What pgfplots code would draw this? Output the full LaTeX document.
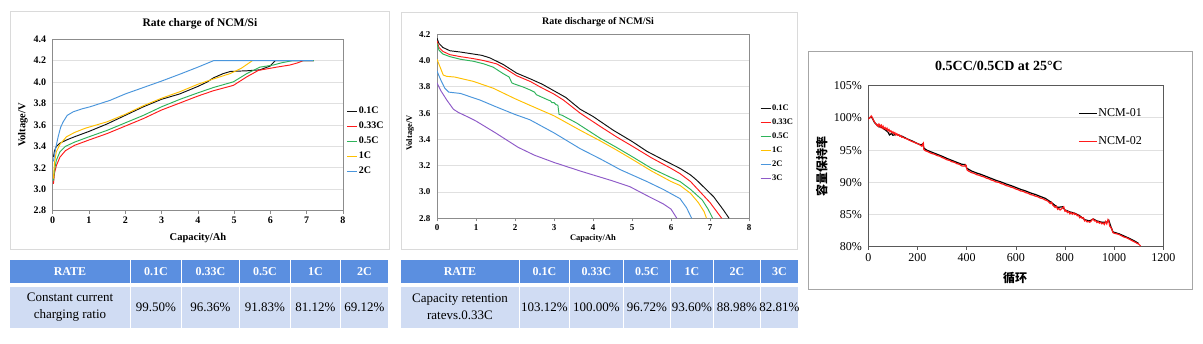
\documentclass[border=0pt]{standalone}
\usepackage{fontspec}
\setmainfont{Liberation Serif}
\newfontfamily\cjk{Noto Sans CJK SC}
\usepackage{pgfplots}
\pgfplotsset{compat=1.18}
\definecolor{cblack}{HTML}{111111}
\definecolor{cred}{HTML}{FF1A1A}
\definecolor{cgreen}{HTML}{2EB35A}
\definecolor{cyellow}{HTML}{FFC000}
\definecolor{cblue}{HTML}{4A96DC}
\definecolor{cpurple}{HTML}{8E5AC8}
\definecolor{gridc}{HTML}{E0E0E0}
\definecolor{axc}{HTML}{8C8C8C}
\definecolor{axc3}{HTML}{595959}
\definecolor{panelc}{HTML}{DADADA}
\definecolor{panelc3}{HTML}{A6A6A6}
\definecolor{hdr}{HTML}{5B8FE0}
\definecolor{bdy}{HTML}{D0DCF3}
\pgfplotsset{
  smallchart/.style={
    scale only axis,
    axis line style={draw=axc, line width=0.8pt},
    ymajorgrids, grid style={draw=gridc, line width=0.8pt},
    tick align=outside, major tick length=3pt,
    xtick pos=bottom, ytick pos=left,
    ytick style={draw=none},
    xtick style={draw=axc, line width=0.6pt},
    /pgf/number format/assume math mode=true,
    legend cell align=left,
    legend image code/.code={\draw[#1] (0pt,0pt) -- (10pt,0pt);},
    every axis plot/.append style={line width=0.95pt, mark=none},
  }
}
\begin{document}
\begin{tikzpicture}[x=1pt,y=1pt]
\useasboundingbox (0,0) rectangle (1203,343);
\fill[white] (0,0) rectangle (1203,343);
% panel frames
\draw[panelc, line width=0.8pt] (10,94) rectangle (389,331.3);
\draw[panelc, line width=0.8pt] (401,94) rectangle (797,331);
\draw[panelc3, line width=0.8pt] (808,53.7) rectangle (1192,291.3);

% ---------- Chart 1: rate charge ----------
\begin{axis}[smallchart,
  at={(52.7pt,132.3pt)}, anchor=south west,
  width=290.3pt, height=171.4pt,
  xmin=0, xmax=8, ymin=2.8, ymax=4.4,
  xtick={0,1,...,8}, ytick={2.8,3.0,3.2,3.4,3.6,3.8,4.0,4.2,4.4},
  yticklabel style={/pgf/number format/.cd, fixed, fixed zerofill, precision=1},
  ticklabel style={font=\bfseries\fontsize{10}{10}\selectfont},
  legend style={at={(1.013,0.615)}, anchor=north west, draw=none, fill=none,
    font=\bfseries\fontsize{10}{10}\selectfont, row sep=3pt,
    inner sep=0pt, nodes={inner sep=1pt, text height=7.5pt, text depth=2.5pt}},
]
\addplot[cblack] coordinates {(0.02,3.30)(0.05,3.36)(0.1,3.40)(0.2,3.43)(0.38,3.46)(0.6,3.49)(1.0,3.54)(1.5,3.61)(2.0,3.69)(2.5,3.77)(3.0,3.84)(3.5,3.89)(4.0,3.96)(4.25,4.00)(4.43,4.04)(4.7,4.08)(4.9,4.10)(5.35,4.106)(5.71,4.115)(5.99,4.15)(6.13,4.2)(7.2,4.2)};
\addlegendentry{0.1C}
\addplot[cred] coordinates {(0.02,3.05)(0.05,3.15)(0.1,3.22)(0.2,3.30)(0.35,3.36)(0.6,3.41)(1.0,3.46)(1.5,3.52)(2.0,3.59)(2.5,3.66)(3.0,3.74)(3.51,3.806)(4.0,3.87)(4.43,3.92)(4.98,3.97)(5.35,4.05)(5.67,4.11)(6.17,4.14)(6.54,4.16)(6.75,4.18)(6.9,4.2)(7.2,4.2)};
\addlegendentry{0.33C}
\addplot[cgreen] coordinates {(0.02,3.08)(0.05,3.18)(0.1,3.27)(0.2,3.35)(0.35,3.40)(0.6,3.44)(1.0,3.49)(1.5,3.55)(2.0,3.62)(2.5,3.69)(3.0,3.77)(3.51,3.84)(4.0,3.90)(4.43,3.95)(4.98,4.003)(5.35,4.08)(5.71,4.14)(6.08,4.16)(6.3,4.18)(6.6,4.2)(7.2,4.2)};
\addlegendentry{0.5C}
\addplot[cyellow] coordinates {(0.02,3.10)(0.05,3.25)(0.1,3.35)(0.2,3.42)(0.38,3.49)(0.6,3.53)(0.9,3.57)(1.5,3.63)(2.0,3.70)(2.5,3.78)(3.0,3.85)(3.5,3.91)(4.0,3.98)(4.43,4.03)(4.89,4.08)(5.2,4.13)(5.5,4.2)};
\addlegendentry{1C}
\addplot[cblue] coordinates {(0.02,3.26)(0.08,3.38)(0.15,3.49)(0.22,3.58)(0.29,3.63)(0.4,3.69)(0.57,3.724)(0.8,3.75)(1.03,3.77)(1.58,3.83)(2.0,3.89)(2.5,3.95)(3.0,4.01)(3.51,4.075)(4.0,4.14)(4.43,4.2)(7.18,4.2)};
\addlegendentry{2C}
\end{axis}
\node[font=\bfseries\fontsize{11.5}{12}\selectfont] at (200,319) {Rate charge of NCM/Si};
\node[font=\bfseries\fontsize{10.5}{11}\selectfont] at (198,105.5) {Capacity/Ah};
\node[font=\bfseries\fontsize{10.5}{11}\selectfont, rotate=90] at (23,218) {Voltage/V};

% ---------- Chart 2: rate discharge ----------
\begin{axis}[smallchart,
  at={(437pt,124.7pt)}, anchor=south west,
  width=312pt, height=184pt,
  xmin=0, xmax=8, ymin=2.8, ymax=4.2,
  xtick={0,1,...,8}, ytick={2.8,3.0,3.2,3.4,3.6,3.8,4.0,4.2},
  yticklabel style={/pgf/number format/.cd, fixed, fixed zerofill, precision=1},
  ticklabel style={font=\bfseries\fontsize{9}{9}\selectfont},
  legend style={at={(1.035,0.627)}, anchor=north west, draw=none, fill=none,
    font=\bfseries\fontsize{8.5}{8.5}\selectfont, row sep=3pt,
    inner sep=0pt, nodes={inner sep=1pt, text height=6.5pt, text depth=2.5pt}},
]
\addplot[cblack] coordinates {(0,4.17)(0.05,4.13)(0.15,4.10)(0.33,4.075)(0.6,4.065)(0.93,4.05)(1.15,4.04)(1.36,4.02)(1.7,3.97)(2.04,3.905)(2.4,3.86)(2.7,3.82)(3.0,3.77)(3.3,3.72)(3.67,3.63)(4.0,3.575)(4.52,3.47)(5.0,3.385)(5.38,3.31)(5.8,3.245)(6.23,3.18)(6.5,3.13)(6.66,3.09)(6.9,3.02)(7.09,2.965)(7.34,2.865)(7.49,2.8)};
\addlegendentry{0.1C}
\addplot[cred] coordinates {(0,4.15)(0.05,4.10)(0.15,4.07)(0.33,4.045)(0.6,4.03)(0.93,4.015)(1.2,4.0)(1.53,3.975)(1.8,3.93)(2.04,3.885)(2.4,3.84)(2.64,3.80)(3.0,3.745)(3.24,3.70)(3.67,3.6)(4.18,3.50)(4.6,3.42)(5.0,3.35)(5.5,3.26)(6.0,3.18)(6.23,3.14)(6.5,3.08)(6.75,3.0)(7.0,2.92)(7.15,2.86)(7.30,2.8)};
\addlegendentry{0.33C}
\addplot[cgreen] coordinates {(0,4.13)(0.05,4.08)(0.15,4.05)(0.33,4.03)(0.6,4.01)(0.93,3.995)(1.2,3.975)(1.44,3.95)(1.7,3.90)(1.85,3.875)(1.92,3.83)(2.0,3.82)(2.2,3.80)(2.4,3.775)(2.5,3.76)(2.55,3.74)(2.7,3.72)(2.85,3.70)(2.9,3.695)(2.95,3.68)(3.0,3.68)(3.05,3.665)(3.1,3.66)(3.13,3.59)(3.2,3.585)(3.58,3.525)(4.18,3.41)(4.6,3.34)(5.0,3.27)(5.5,3.18)(6.0,3.11)(6.23,3.08)(6.5,3.02)(6.8,2.94)(6.95,2.87)(7.07,2.8)};
\addlegendentry{0.5C}
\addplot[cyellow] coordinates {(0,4.01)(0.08,3.95)(0.16,3.89)(0.25,3.88)(0.45,3.875)(0.93,3.842)(1.44,3.79)(1.79,3.74)(2.0,3.71)(2.38,3.66)(3.0,3.58)(3.67,3.47)(4.18,3.39)(4.6,3.32)(5.0,3.25)(5.5,3.16)(6.0,3.08)(6.23,3.05)(6.5,2.99)(6.7,2.92)(6.85,2.85)(6.91,2.8)};
\addlegendentry{1C}
\addplot[cblue] coordinates {(0,3.92)(0.1,3.85)(0.2,3.79)(0.3,3.76)(0.45,3.755)(0.6,3.75)(0.8,3.73)(1.1,3.70)(1.5,3.65)(2.0,3.59)(2.38,3.55)(3.0,3.45)(3.67,3.33)(4.2,3.25)(4.7,3.17)(5.38,3.08)(5.8,3.02)(6.23,2.95)(6.4,2.88)(6.53,2.8)};
\addlegendentry{2C}
\addplot[cpurple] coordinates {(0,3.83)(0.1,3.77)(0.25,3.70)(0.42,3.63)(0.55,3.605)(0.8,3.57)(1.0,3.54)(1.5,3.45)(2.08,3.34)(2.5,3.28)(3.0,3.225)(3.67,3.16)(4.0,3.13)(4.5,3.085)(4.95,3.04)(5.4,2.97)(5.8,2.91)(6.0,2.87)(6.15,2.8)};
\addlegendentry{3C}
\end{axis}
\node[font=\bfseries\fontsize{10}{10}\selectfont] at (598,321.3) {Rate discharge of NCM/Si};
\node[font=\bfseries\fontsize{8.5}{9}\selectfont] at (593,104.3) {Capacity/Ah};
\node[font=\bfseries\fontsize{8.5}{9}\selectfont, rotate=90] at (410,210) {Voltage/V};

% ---------- Chart 3: cycle life ----------
\begin{axis}[
  scale only axis,
  at={(868.3pt,96.3pt)}, anchor=south west,
  width=295pt, height=161pt,
  xmin=0, xmax=1200, ymin=80, ymax=105,
  xtick={0,200,...,1200}, ytick={80,85,...,105},
  yticklabel={\pgfmathprintnumber{\tick}\%},
  /pgf/number format/1000 sep={},
  axis line style={draw=axc3, line width=0.8pt},
  ymajorgrids, grid style={draw=gridc, line width=0.8pt},
  tick align=outside, major tick length=3pt,
  xtick pos=bottom, ytick pos=left,
  ytick style={draw=none}, xtick style={draw=axc3, line width=0.6pt},
  /pgf/number format/assume math mode=true,
  ticklabel style={font=\fontsize{12}{12}\selectfont},
  legend cell align=left,
  legend image code/.code={\draw[#1] (0pt,0pt) -- (18pt,0pt);},
  legend style={at={(0.711,0.874)}, anchor=north west, draw=none, fill=none,
    font=\fontsize{12}{12}\selectfont, row sep=14pt,
    inner sep=0pt, nodes={inner sep=1pt, text height=9pt, text depth=3pt}},
]
\addplot[black, line width=1.2pt] coordinates {(0,99.9)(10,100.1)(16,100.0)(25,99.3)(40,98.7)(60,98.4)(80,97.8)(86,97.35)(95,97.6)(100,97.3)(110,97.4)(120,97.4)(140,97.1)(160,96.7)(180,96.4)(200,96.0)(215,95.8)(222,96.0)(226,95.3)(240,94.95)(260,94.65)(280,94.35)(300,94.05)(320,93.7)(340,93.4)(360,93.1)(380,92.8)(395,92.75)(400,92.2)(420,91.75)(440,91.45)(460,91.2)(480,90.9)(500,90.6)(520,90.3)(540,90.05)(560,89.75)(580,89.5)(600,89.2)(620,88.9)(640,88.65)(660,88.35)(680,88.1)(700,87.8)(720,87.5)(740,87.0)(750,86.7)(770,86.1)(790,86.2)(800,85.7)(820,85.4)(840,85.2)(860,84.8)(880,84.2)(900,84.0)(915,84.3)(930,84.0)(950,83.8)(970,83.8)(978,84.1)(985,83.3)(995,82.3)(1020,82.0)(1050,81.5)(1080,80.95)(1100,80.5)};
\addlegendentry{NCM-01}
\addplot[cred, line width=1.2pt] coordinates {(0,99.8)(4,100.0)(8,100.1)(12,100.3)(16,100.1)(20,99.7)(25,99.4)(30,99.1)(36,98.8)(40,99.0)(42,98.7)(46,98.95)(50,98.6)(53,98.85)(57,98.45)(60,98.7)(64,98.3)(68,98.5)(72,98.2)(76,98.4)(80,98.0)(84,98.2)(88,97.85)(92,98.0)(96,97.7)(100,97.85)(104,97.55)(108,97.7)(112,97.35)(116,97.55)(120,97.3)(124,97.4)(128,97.15)(132,97.25)(136,97.0)(140,97.05)(148,96.85)(156,96.75)(164,96.6)(172,96.45)(180,96.3)(188,96.2)(196,96.05)(204,95.95)(212,95.75)(218,95.6)(222,96.0)(224,96.1)(226,95.1)(232,94.9)(240,94.8)(250,94.6)(260,94.45)(270,94.35)(280,94.15)(290,94.05)(300,93.85)(310,93.7)(320,93.5)(330,93.4)(340,93.2)(350,93.1)(360,92.9)(370,92.8)(380,92.55)(390,92.5)(395,92.7)(398,92.6)(402,91.9)(410,91.7)(420,91.5)(430,91.4)(440,91.2)(450,91.1)(460,90.95)(470,90.85)(480,90.65)(490,90.55)(500,90.35)(510,90.25)(520,90.05)(530,90.0)(540,89.8)(550,89.7)(560,89.5)(570,89.4)(580,89.25)(590,89.15)(600,88.95)(610,88.85)(620,88.65)(630,88.6)(640,88.4)(650,88.3)(660,88.1)(670,88.0)(680,87.85)(690,87.75)(700,87.55)(710,87.45)(720,87.25)(730,87.1)(740,86.7)(745,86.9)(750,86.5)(760,86.1)(765,86.3)(770,85.8)(775,85.95)(780,85.7)(785,85.85)(790,86.0)(795,86.2)(800,85.5)(805,85.6)(810,85.3)(815,85.45)(820,85.1)(825,85.3)(830,85.05)(835,85.25)(840,85.0)(845,85.1)(850,84.8)(855,84.9)(860,84.5)(865,84.65)(870,84.4)(875,84.5)(880,84.0)(885,84.1)(890,83.85)(895,83.95)(900,83.8)(905,83.9)(910,84.2)(915,84.3)(920,84.0)(925,84.05)(930,83.75)(935,83.9)(940,83.65)(945,83.8)(950,83.55)(955,83.7)(960,83.45)(965,83.9)(970,83.55)(975,84.2)(978,84.0)(982,83.2)(986,83.0)(990,82.8)(995,82.2)(1000,82.1)(1010,82.0)(1020,81.9)(1030,81.7)(1040,81.5)(1050,81.4)(1060,81.2)(1070,81.0)(1080,80.8)(1090,80.6)(1100,80.4)(1108,80.1)};
\addlegendentry{NCM-02}
\end{axis}
\node[font=\bfseries\fontsize{14}{14}\selectfont] at (999,277) {0.5CC/0.5CD at 25°C};
\node[font=\cjk\bfseries\fontsize{12}{12}\selectfont, rotate=90] at (821.7,176.3) {容量保持率};
\node[font=\cjk\bfseries\fontsize{12}{12}\selectfont] at (1015,64.7) {循环};

% ---------- Table 1 ----------
\fill[hdr] (10,60) rectangle (130,83);
\fill[hdr] (131,60) rectangle (181,83);
\fill[hdr] (182,60) rectangle (239,83);
\fill[hdr] (240,60) rectangle (290,83);
\fill[hdr] (291,60) rectangle (340,83);
\fill[hdr] (341,60) rectangle (388,83);
\fill[bdy] (10,15.3) rectangle (130,56.3);
\fill[bdy] (131,15.3) rectangle (181,56.3);
\fill[bdy] (182,15.3) rectangle (239,56.3);
\fill[bdy] (240,15.3) rectangle (290,56.3);
\fill[bdy] (291,15.3) rectangle (340,56.3);
\fill[bdy] (341,15.3) rectangle (388,56.3);
\begin{scope}[every node/.style={text=white, font=\bfseries\fontsize{12}{12}\selectfont}]
\node at (70,71.5) {RATE};
\node at (156,71.5) {0.1C};
\node at (210.5,71.5) {0.33C};
\node at (265,71.5) {0.5C};
\node at (315.5,71.5) {1C};
\node at (364.5,71.5) {2C};
\end{scope}
\begin{scope}[every node/.style={font=\fontsize{13}{17}\selectfont, inner sep=0pt}]
\node[align=center] at (70,35.8) {Constant current\\charging ratio};
\node at (156,35.8) {99.50\%};
\node at (210.5,35.8) {96.36\%};
\node at (265,35.8) {91.83\%};
\node at (315.5,35.8) {81.12\%};
\node at (364.5,35.8) {69.12\%};
\end{scope}

% ---------- Table 2 ----------
\fill[hdr] (401,60) rectangle (519,83);
\fill[hdr] (520,60) rectangle (569,83);
\fill[hdr] (570,60) rectangle (623,83);
\fill[hdr] (624,60) rectangle (670,83);
\fill[hdr] (671,60) rectangle (713,83);
\fill[hdr] (714,60) rectangle (760,83);
\fill[hdr] (761,60) rectangle (798,83);
\fill[bdy] (401,15.3) rectangle (519,56.3);
\fill[bdy] (520,15.3) rectangle (569,56.3);
\fill[bdy] (570,15.3) rectangle (623,56.3);
\fill[bdy] (624,15.3) rectangle (670,56.3);
\fill[bdy] (671,15.3) rectangle (713,56.3);
\fill[bdy] (714,15.3) rectangle (760,56.3);
\fill[bdy] (761,15.3) rectangle (798,56.3);
\begin{scope}[every node/.style={text=white, font=\bfseries\fontsize{12}{12}\selectfont}]
\node at (460,71.5) {RATE};
\node at (544.5,71.5) {0.1C};
\node at (596.5,71.5) {0.33C};
\node at (647,71.5) {0.5C};
\node at (692,71.5) {1C};
\node at (737,71.5) {2C};
\node at (779.5,71.5) {3C};
\end{scope}
\begin{scope}[every node/.style={font=\fontsize{13}{17}\selectfont, inner sep=0pt}]
\node[align=center] at (460,35.8) {Capacity retention\\ratevs.0.33C};
\node at (544.5,35.8) {103.12\%};
\node at (596.5,35.8) {100.00\%};
\node at (647,35.8) {96.72\%};
\node at (692,35.8) {93.60\%};
\node at (737,35.8) {88.98\%};
\node at (779.5,35.8) {82.81\%};
\end{scope}
\end{tikzpicture}
\end{document}
